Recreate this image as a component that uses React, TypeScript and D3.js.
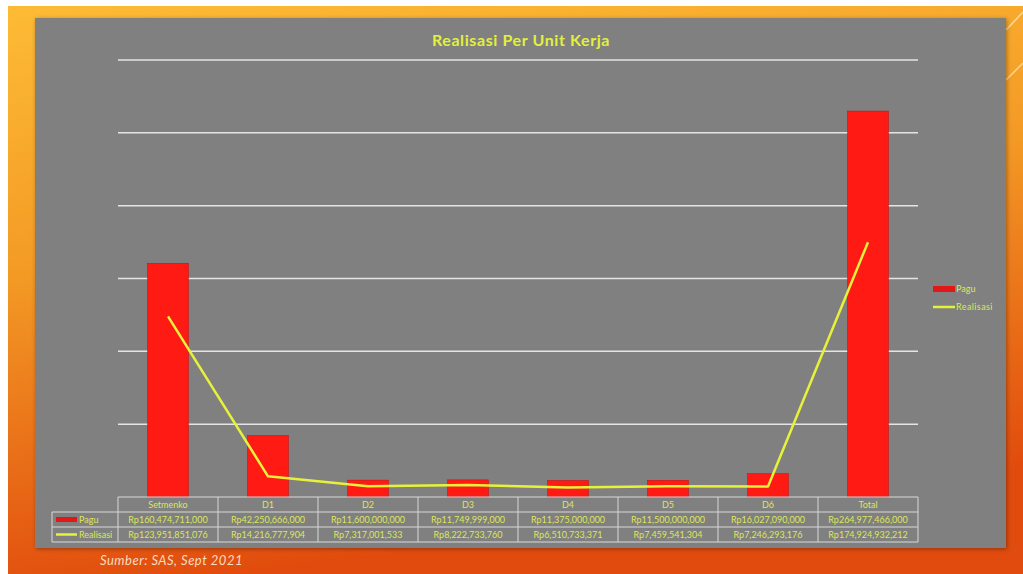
import React from "react";
import * as d3 from "d3";

const categories = ["Setmenko", "D1", "D2", "D3", "D4", "D5", "D6", "Total"];
const pagu = [160474711000, 42250666000, 11600000000, 11749999000, 11375000000, 11500000000, 16027090000, 264977466000];
const realisasi = [123951851076, 14216777904, 7317001533, 8222733760, 6510733371, 7459541304, 7246293176, 174924932212];
const yTicks = [0, 50e9, 100e9, 150e9, 200e9, 250e9, 300e9];

const W = 1023, H = 574;
const PL = 118, PR = 918, PT = 60, PB = 497;

export default function App() {
  React.useEffect(() => {
    document.body.style.margin = "0";
  }, []);
  const x = d3.scaleBand<string>().domain(categories).range([PL, PR]).padding(0);
  const y = d3.scaleLinear().domain([0, 300e9]).range([PB, PT]);
  const fmt = (v: number) => "Rp" + d3.format(",")(v);
  const bw = 41;
  const line = d3.line<number>().x((_, i) => x(categories[i])! + x.bandwidth() / 2).y((d) => y(d));
  const rowH = 15;
  const txt = "#DDE65A";
  const font = "'Lato', 'DejaVu Sans', sans-serif";
  return (
    <svg width={W} height={H} style={{ display: "block", position: "absolute", left: 0, top: 0 }} fontFamily={font}>
      <defs>
        <linearGradient id="bg" x1="0" y1="0" x2="0.25" y2="1">
          <stop offset="0" stopColor="#FDBB35" />
          <stop offset="0.45" stopColor="#F39A25" />
          <stop offset="1" stopColor="#E14B0D" />
        </linearGradient>
        <filter id="sh" x="-5%" y="-5%" width="110%" height="110%">
          <feDropShadow dx="1" dy="1" stdDeviation="2" floodColor="#000" floodOpacity="0.35" />
        </filter>
      </defs>
      <rect x={0} y={0} width={W} height={H} fill="#fff" />
      <rect x={8} y={6} width={W - 8} height={H - 6} fill="url(#bg)" />
      <line x1={1006} y1={30} x2={1023} y2={12} stroke="#FDE6B0" strokeWidth={1.5} opacity={0.8} />
      <line x1={1006} y1={80} x2={1023} y2={63} stroke="#FDE6B0" strokeWidth={1.5} opacity={0.8} />
      <rect x={35} y={18} width={971} height={530} fill="#808080" filter="url(#sh)" />
      <text x={521} y={46} textAnchor="middle" fill="#E2F03C" fontSize={16} fontWeight="bold" letterSpacing={0.6}>Realisasi Per Unit Kerja</text>
      {yTicks.slice(1).map((t) => (
        <line key={t} x1={PL} x2={PR} y1={y(t)} y2={y(t)} stroke="#E4E4E4" strokeWidth={1.5} />
      ))}
      {pagu.map((v, i) => (
        <rect key={i} x={x(categories[i])! + x.bandwidth() / 2 - bw / 2} y={y(v)} width={bw} height={PB - y(v)} fill="#FF1A14" stroke="#C01010" strokeWidth={0.5} />
      ))}
      <path d={line(realisasi) || ""} fill="none" stroke="#E6F23A" strokeWidth={2.5} strokeLinejoin="round" />
      {/* table */}
      <g stroke="#D8D8D8" strokeWidth={1} fill="none">
        <line x1={PL} x2={PR} y1={PB} y2={PB} />
        <line x1={52} x2={PR} y1={PB + rowH} y2={PB + rowH} />
        <line x1={52} x2={PR} y1={PB + 2 * rowH} y2={PB + 2 * rowH} />
        <line x1={52} x2={PR} y1={PB + 3 * rowH} y2={PB + 3 * rowH} />
        <line x1={52} x2={52} y1={PB + rowH} y2={PB + 3 * rowH} />
        {categories.map((c) => (
          <line key={c} x1={x(c)!} x2={x(c)!} y1={PB} y2={PB + 3 * rowH} />
        ))}
        <line x1={PR} x2={PR} y1={PB} y2={PB + 3 * rowH} />
      </g>
      <rect x={56} y={PB + rowH + 5} width={21} height={5} fill="#E01818" />
      <text x={79} y={PB + rowH + 11} fill={txt} fontSize={9}>Pagu</text>
      <line x1={56} x2={77} y1={PB + 2 * rowH + 7.5} y2={PB + 2 * rowH + 7.5} stroke="#E6F23A" strokeWidth={2.5} />
      <text x={79} y={PB + 2 * rowH + 11} fill={txt} fontSize={9}>Realisasi</text>
      {categories.map((c, i) => {
        const cx = x(c)! + x.bandwidth() / 2;
        return (
          <g key={c} fill={txt} fontSize={9} textAnchor="middle">
            <text x={cx} y={PB + 11}>{c}</text>
            <text x={cx} y={PB + rowH + 11}>{fmt(pagu[i])}</text>
            <text x={cx} y={PB + 2 * rowH + 11}>{fmt(realisasi[i])}</text>
          </g>
        );
      })}
      {/* legend */}
      <rect x={933} y={286} width={22} height={6} fill="#E01818" />
      <text x={956} y={292} fill={txt} fontSize={9}>Pagu</text>
      <line x1={933} x2={955} y1={307} y2={307} stroke="#E6F23A" strokeWidth={2.5} />
      <text x={956} y={310} fill={txt} fontSize={9} letterSpacing={0.4}>Realisasi</text>
      <text x={100} y={565} fill="#F7DCC0" fontSize={13} fontStyle="italic" letterSpacing={0.5}>Sumber: SAS, Sept 2021</text>
    </svg>
  );
}
